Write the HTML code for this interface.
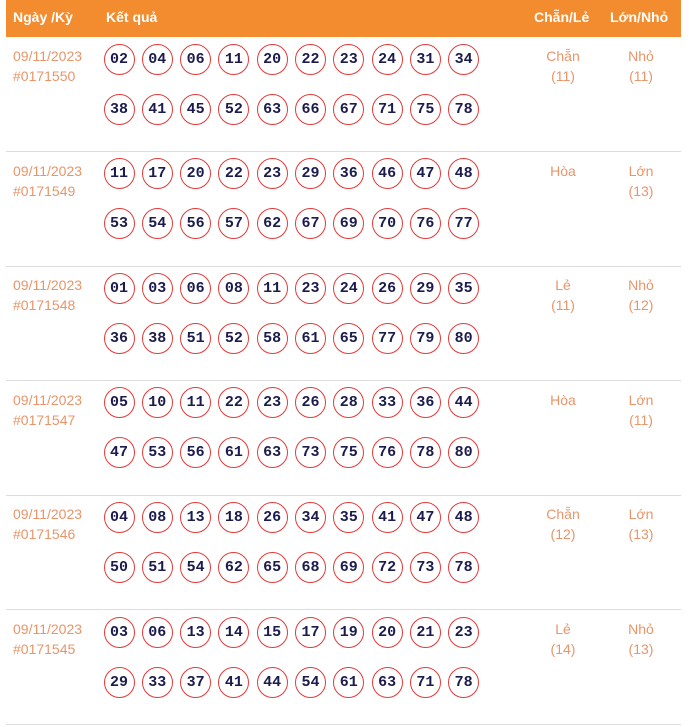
<!DOCTYPE html>
<html><head><meta charset="utf-8"><style>
body{margin:0;width:689px;height:727px;background:#fff;position:relative;overflow:hidden;font-family:"Liberation Sans",sans-serif}
.hd{position:absolute;left:6px;top:0;width:675px;height:37px;background:#f28c2e;color:#fff;font-weight:bold;font-size:14px}
.hd span{position:absolute;top:9px}
.blk{position:absolute;left:6px;width:675px;height:114px;border-bottom:1px solid #ddd}
.d{position:absolute;left:7px;top:9px;color:#e8956a;font-size:14px;line-height:20px}
.c{position:absolute;width:29px;height:29px;border:1.5px solid #e23a3a;border-radius:50%;text-align:center;line-height:29px;font-family:"Liberation Mono",monospace;font-weight:bold;font-size:15px;color:#1b1b4d}
.r{position:absolute;top:9px;color:#e8956a;font-size:14px;line-height:20px;text-align:center;width:70px}
</style></head><body>
<div class="hd"><span style="left:7px">Ngày /Kỳ</span><span style="left:100px">Kết quả</span><span style="left:528px">Chẵn/Lẻ</span><span style="left:604px">Lớn/Nhỏ</span></div>
<div id="w"></div>
<script>
var data=[
["0171550","02 04 06 11 20 22 23 24 31 34","38 41 45 52 63 66 67 71 75 78","Chẵn","11","Nhỏ","11"],
["0171549","11 17 20 22 23 29 36 46 47 48","53 54 56 57 62 67 69 70 76 77","Hòa","","Lớn","13"],
["0171548","01 03 06 08 11 23 24 26 29 35","36 38 51 52 58 61 65 77 79 80","Lẻ","11","Nhỏ","12"],
["0171547","05 10 11 22 23 26 28 33 36 44","47 53 56 61 63 73 75 76 78 80","Hòa","","Lớn","11"],
["0171546","04 08 13 18 26 34 35 41 47 48","50 51 54 62 65 68 69 72 73 78","Chẵn","12","Lớn","13"],
["0171545","03 06 13 14 15 17 19 20 21 23","29 33 37 41 44 54 61 63 71 78","Lẻ","14","Nhỏ","13"]];
var h="";
data.forEach(function(b,i){
 var top=37+i*114.6;
 h+='<div class="blk" style="top:'+top+'px"><div class="d">09/11/2023<br>#'+b[0]+'</div>';
 [b[1],b[2]].forEach(function(row,j){
  row.split(" ").forEach(function(n,k){
   h+='<div class="c" style="left:'+(97.5+k*38.3)+'px;top:'+(6.5+j*50)+'px">'+n+'</div>';
  });
 });
 h+='<div class="r" style="left:522px">'+b[3]+(b[4]?'<br>('+b[4]+')':'')+'</div>';
 h+='<div class="r" style="left:600px">'+b[5]+'<br>('+b[6]+')</div></div>';
});
document.getElementById("w").innerHTML=h;
</script>
</body></html>
